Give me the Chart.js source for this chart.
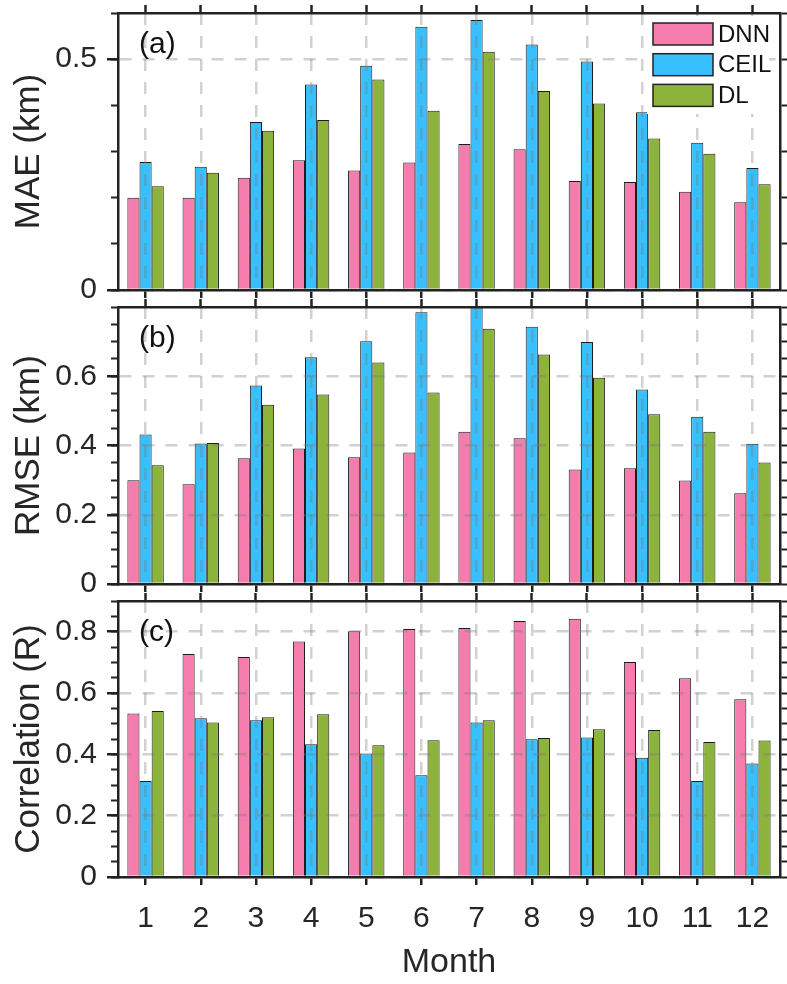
<!DOCTYPE html>
<html>
<head>
<meta charset="utf-8">
<script src="https://cdn.jsdelivr.net/npm/chart.js@4.4.0/dist/chart.umd.min.js"></script>
<style>
  html, body { margin: 0; padding: 0; background: #fff; }
  #wrap { position: relative; width: 787px; height: 984px; overflow: hidden; }
  canvas { position: absolute; left: 0; }
</style>
</head>
<body>
<div id="wrap">
  <canvas id="maeChart" width="787" height="370" style="top:-40px"></canvas>
  <canvas id="rmseChart" width="787" height="357" style="top:267px"></canvas>
  <canvas id="corrChart" width="787" height="423" style="top:561px"></canvas>
</div>
<script>
// Mesi e serie
const months = ['1', '2', '3', '4', '5', '6', '7', '8', '9', '10', '11', '12'];
const seriesNames = ['DNN', 'CEIL', 'DL'];

// (a) MAE (km)
const maeDNN  = [0.200, 0.200, 0.243, 0.281, 0.259, 0.276, 0.316, 0.305, 0.236, 0.234, 0.213, 0.190];
const maeCEIL = [0.277, 0.267, 0.364, 0.445, 0.486, 0.570, 0.585, 0.532, 0.495, 0.385, 0.319, 0.264];
const maeDL   = [0.225, 0.254, 0.345, 0.368, 0.456, 0.388, 0.516, 0.431, 0.404, 0.328, 0.295, 0.229];

// (b) RMSE (km)
const rmseDNN  = [0.300, 0.288, 0.363, 0.391, 0.366, 0.380, 0.440, 0.421, 0.331, 0.334, 0.299, 0.262];
const rmseCEIL = [0.432, 0.406, 0.573, 0.655, 0.701, 0.785, 0.820, 0.743, 0.699, 0.562, 0.483, 0.405];
const rmseDL   = [0.343, 0.407, 0.518, 0.547, 0.640, 0.553, 0.737, 0.663, 0.596, 0.490, 0.440, 0.351];

// (c) Correlation (R)
const corrDNN  = [0.533, 0.727, 0.717, 0.768, 0.801, 0.809, 0.812, 0.835, 0.842, 0.701, 0.648, 0.580];
const corrCEIL = [0.313, 0.518, 0.511, 0.433, 0.403, 0.332, 0.504, 0.449, 0.455, 0.389, 0.313, 0.370];
const corrDL   = [0.541, 0.504, 0.521, 0.531, 0.430, 0.446, 0.511, 0.453, 0.482, 0.479, 0.440, 0.445];

// Tick con etichetta
const maeTicks  = [0, 0.5];
const rmseTicks = [0, 0.2, 0.4, 0.6];
const corrTicks = [0, 0.2, 0.4, 0.6, 0.8];

const seriesColors = ['#F57DAE', '#38BFFD', '#8CB43B'];
const axisDark = '#222222';
const textDark = '#262626';
const gridGray = 'rgba(120,120,120,0.34)';
const gridDash = [12, 11];

Chart.defaults.font.family = '"Liberation Sans", Arial, sans-serif';
Chart.defaults.color = textDark;

// Etichetta del pannello (a), (b), (c)
const panelTag = {
    id: 'panelTag',
    afterDraw(chart, args, opts) {
        const { ctx, chartArea } = chart;
        ctx.save();
        ctx.font = '30px "Liberation Sans", Arial, sans-serif';
        ctx.fillStyle = '#111';
        ctx.textBaseline = 'middle';
        ctx.fillText(opts.text, chartArea.left + 21, chartArea.top + 32);
        ctx.restore();
    }
};

// Legenda dentro il grafico, in alto a destra
const insideLegend = {
    id: 'insideLegend',
    afterDraw(chart, args, opts) {
        if (!opts.show) return;
        const { ctx, chartArea } = chart;
        const x = chartArea.right - 127;
        ctx.save();
        ctx.fillStyle = '#fff';
        ctx.fillRect(x - 6, chartArea.top + 3, 122, 98);
        chart.data.datasets.forEach((ds, i) => {
            const y = chartArea.top + 10 + i * 30.7;
            ctx.fillStyle = ds.backgroundColor;
            ctx.fillRect(x, y, 60, 22);
            ctx.strokeStyle = axisDark;
            ctx.lineWidth = 1.5;
            ctx.strokeRect(x, y, 60, 22);
            ctx.fillStyle = '#111';
            ctx.font = '24px "Liberation Sans", Arial, sans-serif';
            ctx.textBaseline = 'middle';
            ctx.fillText(ds.label, x + 65, y + 12);
        });
        ctx.restore();
    }
};

const yMajor = (p) => ({
    type: 'linear', position: 'left', weight: 1, min: 0, max: p.max,
    afterBuildTicks: s => { s.ticks = p.ticks.map(v => ({ value: v })); },
    afterFit: s => { s.width = 118; },
    ticks: { padding: 10, font: { size: 30 }, color: textDark, z: 2, callback: v => v === 0 ? '0' : v.toFixed(1) },
    grid: { color: gridGray, lineWidth: 2.5, tickColor: axisDark, tickLength: 11, tickWidth: 2.5, tickBorderDash: [], z: 1 },
    border: { display: true, color: axisDark, width: 2.5, dash: gridDash, z: 2 },
    title: { display: true, text: p.title, font: { size: 35 }, color: textDark, padding: { top: 8, bottom: 0 } }
});

const yMinor = (p, position) => ({
    type: 'linear', position, weight: 0, min: 0, max: p.max,
    afterFit: s => { s.width = position === 'left' ? 0 : 7; },
    ticks: { display: false, stepSize: p.minor, font: { size: 8 } },
    grid: { drawOnChartArea: false, color: axisDark, tickColor: axisDark, tickLength: 7, tickWidth: 2, z: 1 },
    border: { display: position === 'right', color: axisDark, width: 2.5, z: 2 }
});

const xBottom = (p) => ({
    type: 'category', position: 'bottom', offset: true,
    afterFit: s => { s.height = p.bottomH; },
    ticks: { display: p.showX, padding: 16, font: { size: 30 }, color: textDark, z: 2, maxRotation: 0, autoSkip: false },
    grid: { offset: false, color: gridGray, lineWidth: 2.5, tickColor: axisDark, tickLength: 8, tickWidth: 2.5, tickBorderDash: [], z: 1 },
    border: { display: true, color: axisDark, width: 2.5, dash: gridDash, z: 2 },
    title: { display: p.showX, text: 'Month', font: { size: 34 }, color: textDark, padding: { top: 0, bottom: 1 } }
});

const xTop = (p) => ({
    type: 'category', position: 'top', offset: true,
    afterFit: s => { s.height = p.topH; },
    ticks: { display: false },
    grid: { offset: false, drawOnChartArea: false, color: axisDark, tickColor: axisDark, tickLength: 8, tickWidth: 2.5, z: 1 },
    border: { display: true, color: axisDark, width: 2.5, z: 2 }
});

// Funzione che crea un pannello
const renderPanel = (id, p) => {
    const data = {
        labels: months,
        datasets: seriesNames.map((name, i) => ({
            label: name,
            data: p.values[i],
            backgroundColor: seriesColors[i],
            borderColor: '#1c1c1c',
            borderWidth: 1,
            categoryPercentage: 0.66,
            barPercentage: 1
        }))
    };

    const options = {
        responsive: false,
        animation: false,
        events: [],
        layout: { padding: 0 },
        plugins: {
            legend: { display: false },
            tooltip: { enabled: false },
            panelTag: { text: p.tag },
            insideLegend: { show: !!p.legend }
        },
        scales: {
            x: xBottom(p),
            xTop: xTop(p),
            y: yMajor(p),
            yMinor: yMinor(p, 'left'),
            yRight: yMinor(p, 'right')
        }
    };

    new Chart(id, { type: 'bar', data, options, plugins: [panelTag, insideLegend] });
};

renderPanel('maeChart', {
    values: [maeDNN, maeCEIL, maeDL], ticks: maeTicks, max: 0.6, minor: 0.1,
    title: 'MAE (km)', tag: '(a)', topH: 53, bottomH: 40, showX: false, legend: true
});

renderPanel('rmseChart', {
    values: [rmseDNN, rmseCEIL, rmseDL], ticks: rmseTicks, max: 0.8, minor: 0.05,
    title: 'RMSE (km)', tag: '(b)', topH: 40, bottomH: 40, showX: false
});

renderPanel('corrChart', {
    values: [corrDNN, corrCEIL, corrDL], ticks: corrTicks, max: 0.9, minor: 0.05,
    title: 'Correlation (R)', tag: '(c)', topH: 40, bottomH: 107, showX: true
});
</script>
</body>
</html>
